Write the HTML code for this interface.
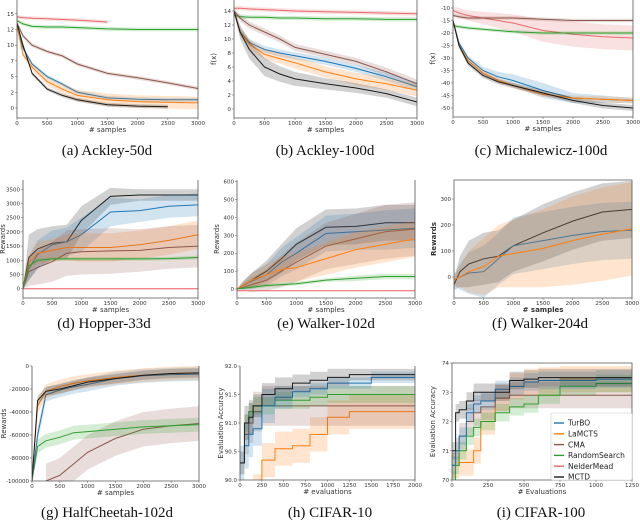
<!DOCTYPE html>
<html><head><meta charset="utf-8"><style>
html,body{margin:0;padding:0;background:#fff;}
svg{display:block;font-family:"DejaVu Sans","Liberation Sans",sans-serif;}
.cap{font-family:"Liberation Serif",serif;font-size:15px;fill:#111;}
.tk{font-size:5.5px;fill:#333;}
.at{font-size:7px;fill:#333;}
.lg{font-size:7.5px;fill:#222;}
</style></head><body>
<svg id="fig" width="640" height="523" viewBox="0 0 640 523"></svg>
<script>
// ---------- data ----------
const gridA = [0,100,250,500,750,1000,1500,2000,2500,3000];
const aRed = [14.5,14.4,14.3,14.2,14.1,14.0,13.7,null,null,null];
const aGreen = [13.9,13.4,13.0,12.9,12.9,12.8,12.6,12.5,12.5,12.5];
const aBrown = [13.5,11.5,10,9,8.3,7,5.5,4.8,4,3.1];
const aBlue = [13,9.5,7,5,3.8,2.5,1.6,1.4,1.3,1.3];
const aOrange = [13,8.5,6.5,4.2,3,2,1.3,1,0.9,0.8];
const aBlack = [13.5,10,5.5,3,2,1.3,0.5,0.3,0.2,null];
const aBandSmall = [0.3,0.3,0.3,0.3,0.3,0.3,0.3,0.3,0.3,0.3];
const aBandOrange = [0.3,0.4,0.5,0.6,0.8,0.9,1.0,1.0,1.0,1.0];
const aYTicks = [0,2.5,5,7.5,10,12.5,15];
const aYLabels = ["0","2","5","7","10","12","15"];

const bRed = [14.4,14.4,14.3,14.2,14.1,14.0,13.9,13.8,13.7,13.6];
const bGreen = [13.4,13.2,13.1,13.1,13.0,13.0,12.9,12.9,12.8,12.8];
const bBrown = [14,13,12,11,10,8.8,7.8,6.8,5.3,3.6];
const bBlue = [14,11,9.5,8.5,8,7.6,6.8,5.8,4.6,3.2];
const bOrange = [14,11,9.3,7.8,7.2,6.6,5.3,4.3,3.6,2.7];
const bBlack = [14,11,8.5,6,5,4.3,3.6,3,2.2,1.0];
const bBandMid = [0.3,0.5,0.5,0.5,0.5,0.5,0.5,0.5,0.6,0.6];
const bBandOrange = [0.3,0.6,0.7,0.7,0.7,0.8,0.8,0.9,0.9,0.9];
const bBandBlack = [0.3,1.0,1.3,1.3,1.1,1.0,0.8,0.7,0.6,0.6];
const bYTicks = [0,2,4,6,8,10,12,14];

const cRed = [-11,-12,-13,-14,-15,-16,-19,-20.5,-21.5,-22];
const cRedBand = [1.5,2,2,2.5,3,3.5,4.5,5,5,5];
const cBrown = [-13,-13.5,-14,-14,-14,-14,-14.5,-15,-15,-15];
const cGreen = [-17,-17.5,-18,-18.5,-19,-19.5,-20,-20,-20,-20];
const cBlue = [-15,-24,-30,-35,-37.5,-39,-43,-46,-46.5,-47];
const cBlueBand = [1,1,1,1.5,2,2.5,3,2,1.5,1];
const cOrange = [-15,-25,-31,-36,-39,-41,-44.5,-46,-46.5,-47];
const cBlack = [-15,-25,-32,-37,-39.5,-41,-44,-47,-49,-50];
const cBandSmall = [0.7,0.7,0.7,0.7,0.7,0.7,0.7,0.7,0.7,0.7];
const cBandMid = [1,1,1,1,1,1,1,1,1.2,1.2];
const cYTicks = [-10,-15,-20,-25,-30,-35,-40,-45,-50];

const dBlack = [0,1100,1400,1600,1650,2400,3250,3300,3300,3300];
const dBlackBand = [0,800,700,600,600,500,300,200,200,200];
const dBlue = [0,700,1200,1550,1650,1900,2700,2750,2900,2950];
const dBlueBand = [0,400,500,500,500,600,500,400,400,400];
const dOrange = [0,900,1250,1350,1450,1450,1450,1550,1700,1900];
const dOrangeBand = [0,300,400,400,450,500,500,500,500,500];
const dBrown = [0,600,750,950,1250,1300,1330,1350,1450,1500];
const dBrownBand = [0,500,600,700,800,800,800,750,750,750];
const dGreen = [0,800,1000,1050,1050,1050,1050,1050,1060,1100];
const dGreenBand = [0,60,60,60,60,60,60,60,60,60];
const dRed = [0,0,0,0,0,0,0,0,0,0];
const dRedBand = [30,30,30,30,30,30,30,30,30,30];
const dYTicks = [0,500,1000,1500,2000,2500,3000,3500];

const eBlack = [0,20,50,100,170,250,345,350,370,370];
const eBlackBand = [0,20,40,60,80,90,100,100,100,100];
const eBlue = [0,20,45,80,150,200,310,320,330,340];
const eBlueBand = [0,25,45,60,80,90,100,100,110,110];
const eBrown = [0,10,25,50,100,150,240,280,320,335];
const eBrownBand = [0,20,40,60,90,110,130,140,150,150];
const eOrange = [0,20,50,80,110,120,170,220,250,280];
const eOrangeBand = [0,20,40,60,70,80,90,100,100,100];
const eGreen = [0,5,10,20,25,30,50,60,70,70];
const eGreenBand = [0,5,10,10,10,10,10,15,15,15];
const eRed = [-10,-10,-10,-10,-10,-10,-10,-10,-10,-10];
const eRedBand = [3,3,3,3,3,3,3,3,3,3];
const eYTicks = [0,100,200,300,400,500,600];

const fBlack = [-30,20,50,70,80,120,170,215,250,260];
const fBlackBand = [20,60,90,100,100,100,110,110,110,110];
const fBlue = [-10,0,15,20,70,120,140,160,175,180];
const fBlueBand = [20,50,80,100,100,110,110,110,110,110];
const fOrange = [-10,0,20,40,80,90,110,140,165,185];
const fOrangeBand = [20,40,80,110,120,130,150,170,180,180];
const fYTicks = [0,100,200,300];

const gBlack = [-100000,-30000,-22000,-20000,-17000,-14000,-11000,-8000,-6500,-6000];
const gOrange = [-100000,-35000,-22000,-18000,-15000,-13000,-10000,-8000,-6500,-6000];
const gBlue = [-100000,-60000,-25000,-21000,-18000,-16000,-11000,-8500,-7500,-7000];
const gGreen = [-100000,-70000,-65000,-62000,-58000,-57000,-55000,-53000,-52000,-51000];
const gBrown = [null,null,-100000,-95000,-85000,-75000,-63000,-55000,-52000,-50000];
const gBandTop = [0,4000,4000,4000,4000,4000,4000,4000,4000,4000];
const gBandMid = [0,6000,6000,6000,6000,6000,6000,6000,6000,6000];
const gBandBrown = [0,15000,15000,15000,15000,15000,15000,15000,15000,15000];
const gYTicks = [0,-20000,-40000,-60000,-80000,-100000];

const gridH = [0,50,100,150,250,400,600,800,1000,1250,1500,2000];
const hBlack = [90.3,91.0,91.1,91.3,91.5,91.6,91.7,91.75,91.8,91.85,91.85,91.85];
const hBlackBand = [0.2,0.3,0.3,0.2,0.2,0.2,0.15,0.15,0.15,0.1,0.1,0.1];
const hBlue = [90.3,90.6,90.8,90.9,91.3,91.45,91.55,91.6,91.7,91.7,91.8,91.85];
const hBlueBand = [0.3,0.4,0.4,0.3,0.3,0.2,0.1,0.1,0.1,0.1,0.1,0.05];
const hGreen = [null,91.0,91.2,91.3,91.3,91.4,91.4,91.45,91.5,91.5,91.5,91.5];
const hGreenBand = [0.15,0.15,0.15,0.15,0.15,0.15,0.15,0.15,0.15,0.15,0.15,0.15];
const hBrown = [null,90.8,91.0,91.2,91.3,91.3,91.3,91.3,91.3,91.3,91.3,91.3];
const hBrownBand = [0.35,0.35,0.35,0.35,0.35,0.35,0.35,0.35,0.35,0.35,0.35,0.35];
const hOrange = [null,null,null,89.8,90.35,90.55,90.6,90.8,91.1,91.2,91.2,91.2];
const hOrangeBand = [0.3,0.3,0.3,0.3,0.3,0.3,0.3,0.3,0.3,0.3,0.3,0.3];
const hXTicks = [0,250,500,750,1000,1250,1500,1750,2000];
const hYTicks = [90.0,90.5,91.0,91.5,92.0];

const gridI = [0,25,50,100,150,200,300,400,500,600,750,1000,1250];
const iBlack = [71,72.3,72.4,72.7,73.0,73.0,73.0,73.4,73.45,73.5,73.5,73.5,73.5];
const iBlue = [70.5,71,71.5,72.3,72.6,72.7,73.1,73.2,73.35,73.4,73.4,73.45,73.45];
const iOrange = [70.5,70.5,70.6,70.6,71.0,72.0,72.8,73.2,73.35,73.4,73.45,73.45,73.45];
const iBrown = [70.5,71,71.5,72,72.3,72.5,72.8,72.9,72.9,72.9,72.9,72.9,72.9];
const iGreen = [70,70.5,71,71.5,71.8,72.0,72.3,72.5,72.6,72.9,73.2,73.3,73.3];
const iBand = [0.3,0.3,0.3,0.3,0.3,0.3,0.3,0.3,0.3,0.3,0.3,0.3,0.3];
const iBandWide = [0.45,0.45,0.45,0.45,0.45,0.45,0.45,0.45,0.45,0.45,0.45,0.45,0.45];
const iXTicks = [0,250,500,750,1000,1250];
const iYTicks = [70,71,72,73,74];

const xTicks3000 = [0,500,1000,1500,2000,2500,3000];
const legendNames = ["TurBO","LaMCTS","CMA","RandomSearch","NelderMead","MCTD"];

// ---------- rendering ----------
const C = {blue:"#1f77b4",orange:"#ff7f0e",brown:"#8c564b",green:"#2ca02c",red:"#e8686a",black:"#1a1a1a"};
const NS="http://www.w3.org/2000/svg";
const svg=document.getElementById('fig');
function el(tag,attrs,parent){const e=document.createElementNS(NS,tag);for(const k in attrs)e.setAttribute(k,attrs[k]);(parent||svg).appendChild(e);return e;}

const panels=[
 {id:"a",box:[17,0,198,118],xd:[0,3000],yd:[-1.6,17.2],x:gridA,xt:xTicks3000,yt:aYTicks,yl:aYLabels,yt_title:"f(x)",xt_title:"# samples",cap:"(a)  Ackley-50d",cx:107,cy:155,
  s:[["red",aRed,aBandSmall],["green",aGreen,aBandSmall],["brown",aBrown,aBandSmall],["blue",aBlue,aBandSmall],["orange",aOrange,aBandOrange],["black",aBlack,aBandSmall]]},
 {id:"b",box:[234,0,417,118],xd:[0,3000],yd:[-1.29,15.57],x:gridA,xt:xTicks3000,yt:bYTicks,yt_title:"f(x)",xt_title:"# samples",cap:"(b)  Ackley-100d",cx:325,cy:155,
  s:[["red",bRed,aBandSmall],["green",bGreen,aBandSmall],["brown",bBrown,bBandMid],["blue",bBlue,bBandMid],["orange",bOrange,bBandOrange],["black",bBlack,bBandBlack]]},
 {id:"c",box:[453,0,633,117],xd:[0,3000],yd:[-53.6,-6.8],x:gridA,xt:xTicks3000,yt:cYTicks,yt_title:"f(x)",xt_title:"# samples",cap:"(c)  Michalewicz-100d",cx:541,cy:155,
  s:[["red",cRed,cRedBand],["brown",cBrown,cBandSmall],["green",cGreen,cBandSmall],["blue",cBlue,cBlueBand],["orange",cOrange,cBandMid],["black",cBlack,cBandMid]]},
 {id:"d",box:[23,180,198,298],xd:[0,3000],yd:[-327,3827],x:gridA,xt:xTicks3000,yt:dYTicks,yt_title:"Rewards",xt_title:"# samples",cap:"(d)  Hopper-33d",cx:104,cy:328,
  s:[["black",dBlack,dBlackBand],["blue",dBlue,dBlueBand],["orange",dOrange,dOrangeBand],["brown",dBrown,dBrownBand],["green",dGreen,dGreenBand],["red",dRed,dRedBand]]},
 {id:"e",box:[237,180,415,298],xd:[0,3000],yd:[-50,609],x:gridA,xt:xTicks3000,yt:eYTicks,yt_title:"Rewards",xt_title:"# samples",cap:"(e)  Walker-102d",cx:326,cy:328,
  s:[["black",eBlack,eBlackBand],["blue",eBlue,eBlueBand],["brown",eBrown,eBrownBand],["orange",eOrange,eOrangeBand],["green",eGreen,eGreenBand],["red",eRed,eRedBand]]},
 {id:"f",box:[454,180,632,298],xd:[0,3000],yd:[-81,373],x:gridA,xt:xTicks3000,yt:fYTicks,yt_title:"Rewards",xt_title:"# samples",cap:"(f)  Walker-204d",cx:540,cy:328,bold:true,top:true,
  s:[["black",fBlack,fBlackBand],["blue",fBlue,fBlueBand],["orange",fOrange,fOrangeBand]]},
 {id:"g",box:[32,366,199,481],xd:[0,3000],yd:[-100000,0],x:gridA,xt:xTicks3000,yt:gYTicks,yt_title:"Rewards",xt_title:"# samples",cap:"(g)  HalfCheetah-102d",cx:107,cy:517,
  s:[["brown",gBrown,gBandBrown],["green",gGreen,gBandMid],["blue",gBlue,gBandMid],["orange",gOrange,gBandMid],["black",gBlack,gBandTop]]},
 {id:"h",box:[240,366,415,480],xd:[0,2000],yd:[90,92],x:gridH,xt:hXTicks,yt:hYTicks,yfmt:1,step:true,yt_title:"Evaluation Accuracy",xt_title:"# evaluations",cap:"(h)  CIFAR-10",cx:330,cy:517,
  s:[["orange",hOrange,hOrangeBand],["brown",hBrown,hBrownBand],["green",hGreen,hGreenBand],["blue",hBlue,hBlueBand],["black",hBlack,hBlackBand]]},
 {id:"i",box:[452,363,632,480],xd:[0,1250],yd:[70,74],x:gridI,xt:iXTicks,yt:iYTicks,step:true,top:true,yt_title:"Evaluation Accuracy",xt_title:"# Evaluations",cap:"(i)  CIFAR-100",cx:541,cy:517,legend:true,
  s:[["orange",iOrange,iBandWide],["brown",iBrown,iBandWide],["green",iGreen,iBand],["blue",iBlue,iBand],["black",iBlack,iBand]]}
];

function stepify(pts){
 const out=[];
 pts.forEach((q,i)=>{ if(i>0) out.push([q[0],pts[i-1][1],pts[i-1][2]]); out.push(q); });
 return out;
}

panels.forEach(p=>{
 const [L,T,R,B]=p.box;
 const sx=v=>L+(v-p.xd[0])/(p.xd[1]-p.xd[0])*(R-L);
 const sy=v=>B-(v-p.yd[0])/(p.yd[1]-p.yd[0])*(B-T);
 const g=el('g',{});
 
 
 const cp=el('clipPath',{id:'clip-'+p.id},g);
 el('rect',{x:L,y:T,width:R-L,height:B-T},cp);
 const plot=el('g',{'clip-path':'url(#clip-'+p.id+')'},g);
 p.s.forEach(([col,vals,band])=>{
  let pts=[];
  vals.forEach((v,i)=>{if(v!==null)pts.push([p.x[i],v,band[i]]);});
  if(p.step) pts=stepify(pts);
  const up=pts.map(q=>sx(q[0]).toFixed(1)+','+sy(q[1]+q[2]).toFixed(1));
  const dn=pts.slice().reverse().map(q=>sx(q[0]).toFixed(1)+','+sy(q[1]-q[2]).toFixed(1));
  const poly=el('polygon',{points:up.concat(dn).join(' '),fill:C[col],'fill-opacity':0.2,stroke:'none'},plot);
  
  
  const line=el('polyline',{points:pts.map(q=>sx(q[0]).toFixed(1)+','+sy(q[1]).toFixed(1)).join(' '),fill:'none',stroke:C[col],'stroke-width':1}, plot);
  
  
 });
 const fr=el('path',{d:(p.top?`M${L},${B}V${T}H${R}V${B}Z`:`M${L},${T}V${B}H${R}V${T}`),fill:'none',stroke:'#555','stroke-width':0.8},g);
 
 
 p.xt.forEach(v=>{
  const x=sx(v);
  el('line',{x1:x,y1:B,x2:x,y2:B+2,stroke:'#555','stroke-width':0.5},g);
  const t=el('text',{x:x,y:B+7,'text-anchor':'middle',class:'tk'},g);t.textContent=String(v);
  
  
 });
 p.yt.forEach((v,i)=>{
  const y=sy(v);
  el('line',{x1:L-2,y1:y,x2:L,y2:y,stroke:'#555','stroke-width':0.5},g);
  const t=el('text',{x:L-3,y:y+2,'text-anchor':'end',class:'tk'},g);
  t.textContent=p.yl?p.yl[i]:(p.yfmt?v.toFixed(1):String(v));
  
  
 });
 const xt=el('text',{x:(L+R)/2,y:B+14,'text-anchor':'middle',class:'at','font-weight':p.bold?'bold':'normal'},g);
 xt.textContent=p.xt_title;
 
 
 const yx=p.id==='h'||p.id==='i'?L-17:(p.id==='g'?L-26:L-18);
 const yt=el('text',{x:yx,y:(T+B)/2,'text-anchor':'middle',class:'at',transform:'rotate(-90 '+yx+' '+(T+B)/2+')','font-weight':p.bold?'bold':'normal'},g);
 yt.textContent=p.yt_title;
 
 
 const cap=el('text',{x:p.cx,y:p.cy,'text-anchor':'middle',class:'cap'},g);
 cap.textContent=p.cap;
 
 
 if(p.legend){
  const lg=el('g',{},g);
  
  
  el('rect',{x:551,y:413,width:81,height:67,fill:'#fff',stroke:'#ccc','stroke-width':0.6,rx:1.5},lg);
  const cols=["blue","orange","brown","green","red","black"];
  legendNames.forEach((n,i)=>{
   const y=423+i*10.8;
   const ent=el('g',{},lg);
   
   
   el('line',{x1:554,y1:y,x2:564,y2:y,stroke:C[cols[i]],'stroke-width':1.4},ent);
   const t=el('text',{x:568,y:y+2.7,class:'lg'},ent);t.textContent=n;
  });
 }
});
</script>
</body></html>
